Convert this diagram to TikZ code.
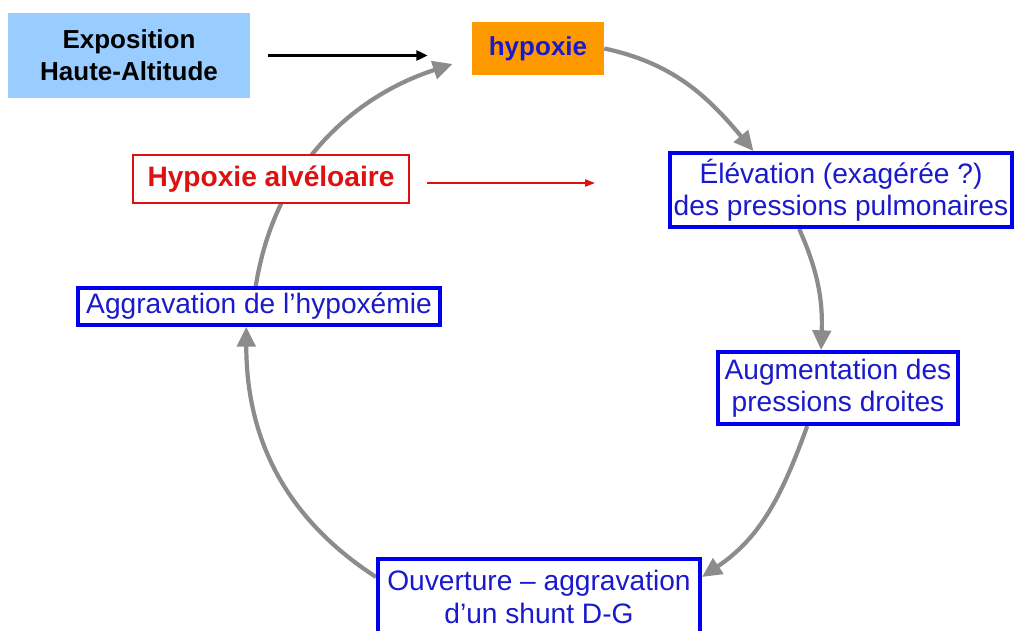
\documentclass[tikz,border=0pt]{standalone}
\usepackage{fontspec}
\setmainfont{Liberation Sans}
\usepackage{tikz}
\usetikzlibrary{arrows.meta,positioning,calc,backgrounds}
\definecolor{skyfill}{HTML}{99CCFF}
\definecolor{orfill}{HTML}{FF9900}
\definecolor{bordblue}{HTML}{0000EE}
\definecolor{txtblue}{HTML}{1A1ACC}
\definecolor{alvred}{HTML}{DD1111}
\definecolor{cycgray}{HTML}{8C8C8C}
\tikzset{
  stagebox/.style={draw=bordblue,line width=2.8pt,fill=white,text=txtblue,align=center,inner sep=0pt,font=\fontsize{20}{23}\selectfont},
  cycarrow/.style={draw=cycgray,line width=3pt,-{Triangle[length=14pt,width=13pt]}},
}

\begin{document}
\begin{tikzpicture}[x=0.025cm,y=-0.025cm]
\useasboundingbox (0,0) rectangle (1014,631);
\node[fill=skyfill,minimum width=6.05cm,minimum height=2.12cm,align=center,inner sep=0pt,font=\fontsize{18.5}{23}\selectfont\bfseries] (expo) at (129,55.5) {Exposition\\Haute-Altitude};
\node[fill=orfill,text=txtblue,minimum width=3.3cm,minimum height=1.32cm,inner sep=0pt,font=\fontsize{18.5}{23}\selectfont\bfseries] (hyp) at (538,48.5) {hypoxie};
\node[draw=alvred,line width=1.4pt,fill=white,text=alvred,minimum width=6.9cm,minimum height=1.2cm,inner sep=0pt,font=\fontsize{20}{23}\selectfont\bfseries] (alv) at (271,179) {Hypoxie alv\'eloaire};
\node[stagebox,minimum width=8.55cm,minimum height=1.85cm] (elev) at (841,190) {\'Elévation (exagérée ?)\\des pressions pulmonaires};
\node[stagebox,minimum width=9.05cm,minimum height=0.92cm] (aggr) at (259,306.5) {Aggravation de l'hypoxémie};
\node[stagebox,minimum width=6cm,minimum height=1.8cm] (aug) at (838,388) {Augmentation des\\pressions droites};
\node[stagebox,minimum width=8.05cm,minimum height=1.9cm] (ouv) at (539,597) {Ouverture -- aggravation\\d'un shunt D-G};
\coordinate (alvtip) at (595,183);

\draw[line width=2pt,-{Triangle[length=8pt,width=7pt]},shorten <=0.45cm,shorten >=1.1cm] (expo.east) -- (expo.east -| hyp.west);
\draw[alvred,line width=1.2pt,-{Triangle[length=7pt,width=5pt]},shorten <=0.42cm] (alv.east) ++(0,4) -- (alvtip);

\begin{scope}[on background layer]
\draw[cycarrow] (hyp.east) to[out=-12,in=130] (elev.156);
\draw[cycarrow] (elev.-137) to[out=-66,in=88] (aug.114);
\draw[cycarrow] (aug.-129) to[out=-110,in=34] (ouv.7);
\draw[cycarrow] (ouv.173) to[out=147,in=-90] (aggr.-122);
\draw[cycarrow,shorten >=0.5cm] (aggr.99) to[out=81,in=198] (hyp.188);
\end{scope}
\end{tikzpicture}
\end{document}
